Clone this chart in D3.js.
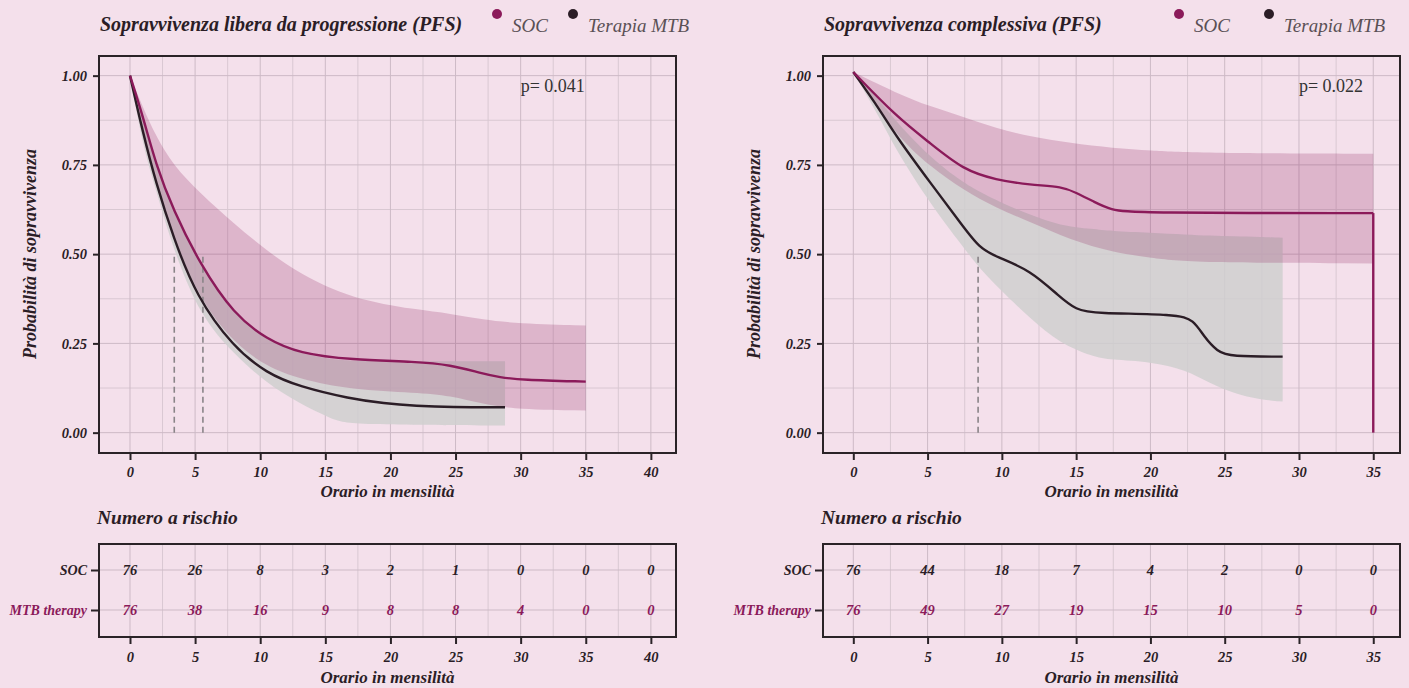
<!DOCTYPE html>
<html>
<head>
<meta charset="utf-8">
<script src="https://cdn.jsdelivr.net/npm/d3@7"></script>
<style>
  body { margin: 0; background: #f4e0eb; }
  svg { display: block; }
  text { font-family: "Liberation Serif", "DejaVu Serif", serif; }
</style>
</head>
<body>
<div id="main"></div>
<script>
// ---- data ----
const ticksPfs = [0, 5, 10, 15, 20, 25, 30, 35, 40];
const ticksOs = [0, 5, 10, 15, 20, 25, 30, 35];
const yTicks = [0, 0.25, 0.5, 0.75, 1.0];
const groups = ["SOC", "MTB therapy"];
const legendLabels = ["SOC", "Terapia MTB"];

// PFS curves [month, survival]
const pfsSoc = [[0, 1.0], [1, 0.885], [2, 0.75], [3.3, 0.625], [5.4, 0.47], [8, 0.33],
  [10.5, 0.262], [13, 0.222], [17, 0.204], [22, 0.199], [24.6, 0.19], [27, 0.166], [28.4, 0.155],
  [30, 0.148], [35, 0.143]];
const pfsMtb = [[0, 1.0], [1, 0.839], [2, 0.699], [3.3, 0.549], [5.1, 0.381], [7.9, 0.241],
  [10.5, 0.166], [13, 0.129], [16.9, 0.095], [19.5, 0.082], [22, 0.075], [24.6, 0.071], [28.8, 0.071]];
// PFS confidence bands [month, lower, upper]
const pfsSocBand = [[0, 1.0, 1.0], [1, 0.84, 0.91], [2, 0.70, 0.83], [3.3, 0.55, 0.75], [5.4, 0.37, 0.67],
  [8, 0.25, 0.585], [10.5, 0.185, 0.51], [13, 0.15, 0.445], [17, 0.12, 0.375], [22, 0.112, 0.344],
  [24.6, 0.104, 0.334], [27.1, 0.08, 0.316], [29.7, 0.065, 0.306], [35, 0.062, 0.30]];
const pfsMtbBand = [[0, 1.0, 1.0], [1, 0.80, 0.885], [2, 0.68, 0.75], [3.3, 0.515, 0.625], [5.4, 0.325, 0.474],
  [8, 0.22, 0.334], [10.5, 0.138, 0.26], [13, 0.082, 0.222], [15.6, 0.036, 0.205], [17, 0.022, 0.2],
  [28.8, 0.02, 0.2]];
const pfsMedians = [3.4, 5.6];

// OS curves
const osSoc = [[0, 1.01], [2.9, 0.885], [5.2, 0.81], [7.4, 0.736], [9.6, 0.708], [11.9, 0.694], [14.1, 0.689],
  [15, 0.672], [16.2, 0.647], [17.3, 0.624], [19, 0.615], [35, 0.615]];
const osSocDrop = [[35, 0.615], [35, 0]];
const osMtb = [[0, 1.01], [1.8, 0.904], [2.9, 0.829], [5.2, 0.699], [7.4, 0.577], [8.5, 0.517], [9.6, 0.493],
  [11.9, 0.456], [13.9, 0.38], [15, 0.344], [16.2, 0.334], [21.8, 0.332], [22.9, 0.316], [23.6, 0.269],
  [24.5, 0.227], [25.4, 0.213], [28.9, 0.213]];
const osSocBand = [[0, 1.01, 1.01], [2.9, 0.83, 0.951], [5.2, 0.745, 0.913], [7.4, 0.68, 0.885],
  [9.6, 0.63, 0.853], [11.9, 0.59, 0.829], [14.6, 0.54, 0.811], [17.5, 0.505, 0.797], [20, 0.49, 0.79],
  [22.9, 0.476, 0.783], [35, 0.474, 0.781]];
const osMtbBand = [[0, 1.01, 1.01], [1.8, 0.88, 0.93], [2.9, 0.79, 0.87], [5.2, 0.64, 0.77], [7.4, 0.52, 0.70],
  [8.5, 0.46, 0.675], [9.9, 0.40, 0.645], [11.9, 0.32, 0.61], [13.9, 0.25, 0.58], [16.15, 0.213, 0.57],
  [17.3, 0.204, 0.565], [20, 0.199, 0.56], [22.4, 0.176, 0.555], [24, 0.138, 0.552], [25.6, 0.11, 0.55],
  [27.4, 0.092, 0.548], [28.9, 0.087, 0.546]];
const osMedians = [8.4];

// numbers at risk
const riskPfsSoc = [76, 26, 8, 3, 2, 1, 0, 0, 0];
const riskPfsMtb = [76, 38, 16, 9, 8, 8, 4, 0, 0];
const riskOsSoc = [76, 44, 18, 7, 4, 2, 0, 0];
const riskOsMtb = [76, 49, 27, 19, 15, 10, 5, 0];

const COL = {
  bg: "#f4e0eb",
  purple: "#8b1a5a",
  dark: "#2b1d26",
  grid: "#cdbac6",
  gridMinor: "#d9c8d2",
  frame: "#2a2327",
  legendText: "#5a5055"
};

const W = 1409, H = 688;
const svg = d3.select("#main").append("svg").attr("width", W).attr("height", H);
svg.append("rect").attr("width", W).attr("height", H).attr("fill", COL.bg);

const panels = [
  { x0: 99, x1: 676, dom: [-2.38, 41.93], ticks: ticksPfs, title: "Sopravvivenza libera da progressione (PFS)",
    leg: [497, 573], p: "p= 0.041", soc: pfsSoc, mtb: pfsMtb, socBand: pfsSocBand, mtbBand: pfsMtbBand,
    medians: pfsMedians, drop: null, riskSoc: riskPfsSoc, riskMtb: riskPfsMtb },
  { x0: 823, x1: 1400, dom: [-2.04, 36.8], ticks: ticksOs, title: "Sopravvivenza complessiva (PFS)",
    leg: [1179, 1269], p: "p= 0.022", soc: osSoc, mtb: osMtb, socBand: osSocBand, mtbBand: osMtbBand,
    medians: osMedians, drop: osSocDrop, riskSoc: riskOsSoc, riskMtb: riskOsMtb }
];

// smoothed like the original (loess-looking) curves
const smooth = d3.curveBasis;

function styleAxis(a) {
  a.select(".domain").remove();
  a.selectAll(".tick line").attr("stroke", COL.frame).attr("stroke-width", 2);
  a.selectAll(".tick text").attr("font-family", "Liberation Serif").attr("font-size", 14.5)
    .attr("font-weight", "bold").attr("font-style", "italic").attr("fill", COL.dark);
}

function drawPanel(p) {
  const x = d3.scaleLinear().domain(p.dom).range([p.x0, p.x1]);
  const y = d3.scaleLinear().domain([-0.057, 1.055]).range([453, 56]);
  const g = svg.append("g");

  // title + legend
  g.append("text").attr("x", p.x0 + 1).attr("y", 31)
    .attr("font-size", 20).attr("font-weight", "bold").attr("font-style", "italic")
    .attr("fill", COL.dark).text(p.title);
  [COL.purple, COL.dark].forEach((c, i) => {
    g.append("circle").attr("cx", p.leg[i]).attr("cy", 14).attr("r", 5).attr("fill", c);
    g.append("text").attr("x", p.leg[i] + 15).attr("y", 32)
      .attr("font-size", 19).attr("font-style", "italic").attr("fill", COL.legendText)
      .text(legendLabels[i]);
  });

  // grid
  const grid = g.append("g");
  const minorX = d3.range(2.5, p.dom[1], 5);
  const minorY = [0.125, 0.375, 0.625, 0.875];
  grid.selectAll(".mx").data(minorX).enter().append("line")
    .attr("x1", d => x(d)).attr("x2", d => x(d)).attr("y1", 56).attr("y2", 453)
    .attr("stroke", COL.gridMinor).attr("stroke-width", 1);
  grid.selectAll(".my").data(minorY).enter().append("line")
    .attr("x1", p.x0).attr("x2", p.x1).attr("y1", d => y(d)).attr("y2", d => y(d))
    .attr("stroke", COL.gridMinor).attr("stroke-width", 1);
  grid.selectAll(".gx").data(p.ticks).enter().append("line")
    .attr("x1", d => x(d)).attr("x2", d => x(d)).attr("y1", 56).attr("y2", 453)
    .attr("stroke", COL.grid).attr("stroke-width", 1);
  grid.selectAll(".gy").data(yTicks).enter().append("line")
    .attr("x1", p.x0).attr("x2", p.x1).attr("y1", d => y(d)).attr("y2", d => y(d))
    .attr("stroke", COL.grid).attr("stroke-width", 1);

  // bands
  const area = d3.area().x(d => x(d[0])).y0(d => y(d[1])).y1(d => y(d[2])).curve(smooth);
  g.append("path").attr("d", area(p.mtbBand)).attr("fill", "#cfcfcf").attr("fill-opacity", 0.85);
  g.append("path").attr("d", area(p.socBand)).attr("fill", COL.purple).attr("fill-opacity", 0.22);

  // medians
  g.selectAll(".med").data(p.medians).enter().append("line")
    .attr("x1", d => x(d)).attr("x2", d => x(d)).attr("y1", y(0)).attr("y2", y(0.5))
    .attr("stroke", "#8a8488").attr("stroke-width", 1.6).attr("stroke-dasharray", "6,4");

  // curves
  const line = d3.line().x(d => x(d[0])).y(d => y(d[1])).curve(smooth);
  g.append("path").attr("d", line(p.mtb)).attr("fill", "none")
    .attr("stroke", COL.dark).attr("stroke-width", 2.4);
  g.append("path").attr("d", line(p.soc)).attr("fill", "none")
    .attr("stroke", COL.purple).attr("stroke-width", 2.4);
  if (p.drop) {
    g.append("path").attr("d", d3.line().x(d => x(d[0])).y(d => y(d[1]))(p.drop)).attr("fill", "none")
      .attr("stroke", COL.purple).attr("stroke-width", 2.4);
  }

  // p-value
  g.append("text").attr("x", x(30)).attr("y", y(0.955))
    .attr("font-size", 18).attr("fill", "#333").text(p.p);

  // frame
  g.append("rect").attr("x", p.x0).attr("y", 56).attr("width", p.x1 - p.x0).attr("height", 397)
    .attr("fill", "none").attr("stroke", COL.frame).attr("stroke-width", 2);

  // axes
  const yAxis = d3.axisLeft(y).tickValues(yTicks).tickFormat(d3.format(".2f")).tickSize(6).tickPadding(6);
  styleAxis(g.append("g").attr("transform", `translate(${p.x0},0)`).call(yAxis));
  const xAxis = d3.axisBottom(x).tickValues(p.ticks).tickFormat(d3.format("d")).tickSize(7).tickPadding(7);
  styleAxis(g.append("g").attr("transform", "translate(0,453)").call(xAxis));

  g.append("text").attr("x", (p.x0 + p.x1) / 2).attr("y", 497).attr("text-anchor", "middle")
    .attr("font-size", 17).attr("font-weight", "bold").attr("font-style", "italic")
    .attr("fill", COL.dark).text("Orario in mensilità");
  g.append("text").attr("transform", `translate(${p.x0 - 63},254) rotate(-90)`).attr("text-anchor", "middle")
    .attr("font-size", 18).attr("font-weight", "bold").attr("font-style", "italic")
    .attr("fill", COL.dark).text("Probabilità di sopravvivenza");

  drawRisk(p, x);
}

function drawRisk(p, x) {
  const g = svg.append("g");
  const ry = d3.scalePoint().domain(groups).range([570, 610]);
  const top = 544, bottom = 637;

  g.append("text").attr("x", p.x0 - 2).attr("y", 524)
    .attr("font-size", 19.5).attr("font-weight", "bold").attr("font-style", "italic")
    .attr("fill", COL.dark).text("Numero a rischio");

  const minorX = d3.range(2.5, p.dom[1], 5);
  g.selectAll(".mx").data(minorX).enter().append("line")
    .attr("x1", d => x(d)).attr("x2", d => x(d)).attr("y1", top).attr("y2", bottom)
    .attr("stroke", COL.gridMinor);
  g.selectAll(".gx").data(p.ticks).enter().append("line")
    .attr("x1", d => x(d)).attr("x2", d => x(d)).attr("y1", top).attr("y2", bottom)
    .attr("stroke", COL.grid);
  g.selectAll(".gy").data(groups).enter().append("line")
    .attr("x1", p.x0).attr("x2", p.x1).attr("y1", d => ry(d)).attr("y2", d => ry(d))
    .attr("stroke", COL.grid);

  const rows = [
    { key: "SOC", vals: p.riskSoc, color: COL.dark },
    { key: "MTB therapy", vals: p.riskMtb, color: COL.purple }
  ];
  rows.forEach(r => {
    g.selectAll(null).data(r.vals).enter().append("text")
      .attr("x", (d, i) => x(p.ticks[i])).attr("y", ry(r.key) + 5).attr("text-anchor", "middle")
      .attr("font-size", 14.5).attr("font-weight", "bold").attr("font-style", "italic")
      .attr("fill", r.color).text(d => d);
  });

  g.append("rect").attr("x", p.x0).attr("y", top).attr("width", p.x1 - p.x0).attr("height", bottom - top)
    .attr("fill", "none").attr("stroke", COL.frame).attr("stroke-width", 2);

  const yAxis = d3.axisLeft(ry).tickSize(8).tickPadding(4);
  const ya = g.append("g").attr("transform", `translate(${p.x0},0)`).call(yAxis);
  const xAxis = d3.axisBottom(x).tickValues(p.ticks).tickFormat(d3.format("d")).tickSize(7).tickPadding(8);
  styleAxis(ya);
  styleAxis(g.append("g").attr("transform", `translate(0,${bottom})`).call(xAxis));
  ya.selectAll(".tick text").attr("font-size", 14).attr("fill", d => d === "SOC" ? COL.dark : COL.purple);

  g.append("text").attr("x", (p.x0 + p.x1) / 2).attr("y", 683).attr("text-anchor", "middle")
    .attr("font-size", 17).attr("font-weight", "bold").attr("font-style", "italic")
    .attr("fill", COL.dark).text("Orario in mensilità");
}

panels.forEach(drawPanel);
</script>
</body>
</html>
